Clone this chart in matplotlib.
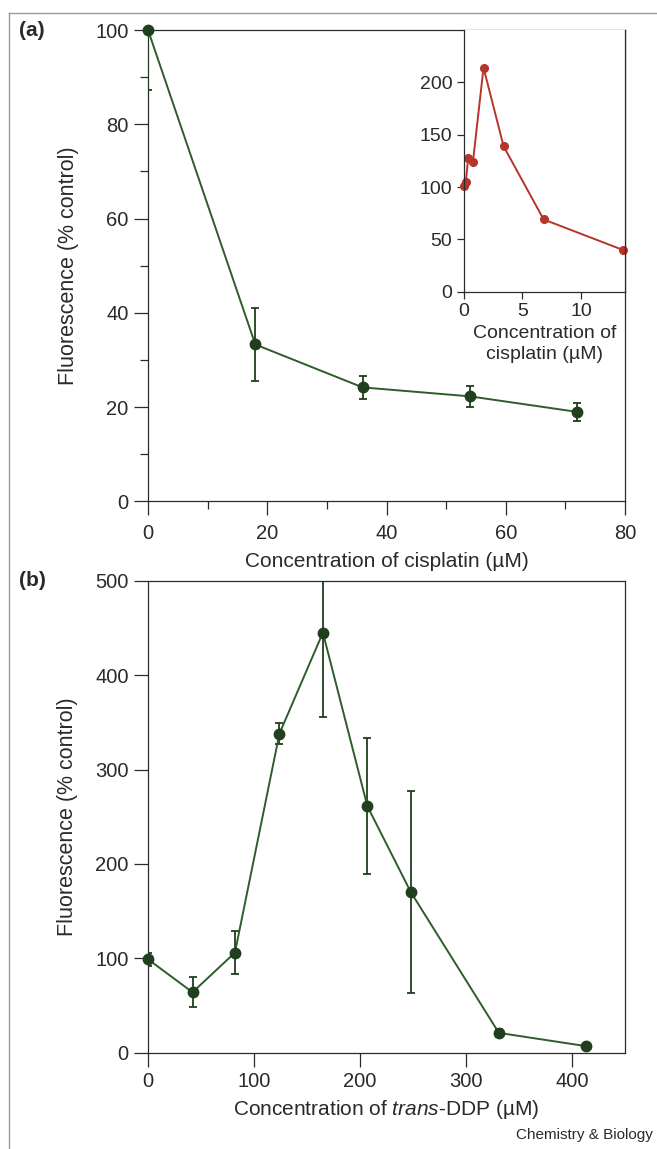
import matplotlib
matplotlib.use("Agg")
import matplotlib.pyplot as plt
from matplotlib.lines import Line2D
from matplotlib.ticker import MultipleLocator

plt.rcParams["font.family"] = ["Liberation Sans", "DejaVu Sans"]
plt.rcParams["mathtext.fontset"] = "custom"
plt.rcParams["mathtext.rm"] = "Liberation Sans"
plt.rcParams["mathtext.it"] = "Liberation Sans:italic"

# ---------------------------------------------------------------- data
# (a) cisplatin, main panel
cis_x = [0, 18, 36, 54, 72]
cis_y = [100, 33.3, 24.2, 22.3, 19.0]
cis_err = [12.7, 7.8, 2.5, 2.3, 1.9]

# (a) inset, low cisplatin range
ins_x = [0, 0.2, 0.4, 0.8, 1.7, 3.4, 6.8, 13.5]
ins_y = [101, 105, 128, 124, 214, 139, 69, 40]

# (b) trans-DDP
ddp_x = [0, 42, 82, 124, 165, 207, 248, 331, 413]
ddp_y = [99, 64, 106, 338, 445, 261, 170, 21, 7]
ddp_err = [7, 16, 23, 11, 89, 72, 107, 4, 2]

GREEN_LINE = "#2f5c2b"
GREEN_DOT = "#1f3f1f"
RED = "#b5352b"
INK = "#2a2a2a"

W, H = 657, 1149
fig = plt.figure(figsize=(W / 100, H / 100), dpi=100)


def box(left, top, right, bottom):
    return [left / W, 1 - bottom / H, (right - left) / W, (bottom - top) / H]


def style(ax, major=10, minor=6, size=14.5, pad=4):
    for s in ax.spines.values():
        s.set_linewidth(0.9)
        s.set_color(INK)
    ax.tick_params(which="major", direction="out", length=major, width=0.9,
                   color=INK, labelsize=size, labelcolor=INK, pad=pad)
    ax.tick_params(which="minor", direction="out", length=minor, width=0.9,
                   color=INK)


def series(ax, x, y, err):
    # error bars stay clipped to the frame, the dots do not
    ax.errorbar(x, y, yerr=err, fmt="none", ecolor=GREEN_DOT,
                elinewidth=1.3, capsize=3, capthick=1.3, zorder=3)
    ax.plot(x, y, color=GREEN_LINE, lw=1.4, marker="o", ms=7.5,
            mfc=GREEN_DOT, mec=GREEN_DOT, zorder=4, clip_on=False)


# ---------------------------------------------------------------- (a)
ax_a = fig.add_axes(box(148, 30, 625, 501.5))
series(ax_a, cis_x, cis_y, cis_err)
ax_a.set_xlim(0, 80)
ax_a.set_ylim(0, 100)
ax_a.xaxis.set_major_locator(MultipleLocator(20))
ax_a.xaxis.set_minor_locator(MultipleLocator(10))
ax_a.yaxis.set_major_locator(MultipleLocator(20))
ax_a.yaxis.set_minor_locator(MultipleLocator(10))
style(ax_a)
ax_a.tick_params(axis="x", which="major", pad=6)
ax_a.set_xlabel("Concentration of cisplatin (\u00b5M)", fontsize=15,
                color=INK, labelpad=7)
ax_a.set_ylabel("Fluorescence (% control)", fontsize=15.5, color=INK,
                labelpad=12)

# inset
ax_i = fig.add_axes(box(463.5, 30, 625, 291.7))
ax_i.plot(ins_x, ins_y, color=RED, lw=1.4, marker="o", ms=5.5,
          mfc=RED, mec=RED, clip_on=False)
ax_i.set_xlim(0, 13.7)
ax_i.set_ylim(0, 250)
ax_i.xaxis.set_major_locator(MultipleLocator(5))
ax_i.set_yticks([0, 50, 100, 150, 200])
style(ax_i, major=5, size=14, pad=3)
ax_i.spines["top"].set_visible(False)
ax_i.set_xlabel("Concentration of\ncisplatin (\u00b5M)", fontsize=14,
                color=INK, labelpad=4, linespacing=1.25)

# ---------------------------------------------------------------- (b)
ax_b = fig.add_axes(box(148, 580.7, 625, 1052.7))
series(ax_b, ddp_x, ddp_y, ddp_err)
ax_b.set_xlim(0, 450)
ax_b.set_ylim(0, 500)
ax_b.xaxis.set_major_locator(MultipleLocator(100))
ax_b.yaxis.set_major_locator(MultipleLocator(100))
style(ax_b)
ax_b.set_xlabel("Concentration of $\\it{trans}$-DDP (\u00b5M)", fontsize=15,
                color=INK, labelpad=5)
ax_b.set_ylabel("Fluorescence (% control)", fontsize=15.5, color=INK,
                labelpad=12)

# panel letters, frame and credit
fig.text(19 / W, 1 - 31 / H, "(a)", fontsize=15, fontweight="bold",
         color=INK, va="center")
fig.text(19 / W, 1 - 581 / H, "(b)", fontsize=15, fontweight="bold",
         color=INK, va="center")
fig.add_artist(Line2D([9 / W, 1], [1 - 13 / H, 1 - 13 / H], color="#999999",
                      lw=1.0, transform=fig.transFigure))
fig.add_artist(Line2D([9 / W, 9 / W], [0, 1 - 13 / H], color="#999999",
                      lw=1.0, transform=fig.transFigure))
fig.text(653 / W, 1 - 1135 / H, "Chemistry & Biology", fontsize=11,
         color=INK, va="center", ha="right")

fig.savefig("out.png", dpi=100)
